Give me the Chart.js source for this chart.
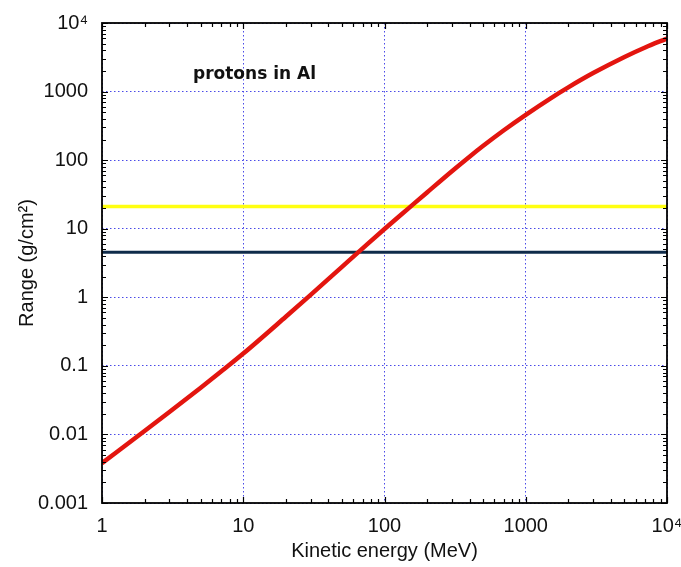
<!DOCTYPE html>
<html>
<head>
<meta charset="utf-8">
<script src="https://cdn.jsdelivr.net/npm/chart.js@4.4.1/dist/chart.umd.min.js"></script>
<style>
  html, body { margin: 0; padding: 0; background: #ffffff; }
  #wrap { width: 681px; height: 567px; position: relative; }
</style>
</head>
<body>
<div id="wrap"><canvas id="c" width="681" height="567"></canvas></div>
<script>
// ---- data ----
const energies = [1, 2, 3, 5, 7, 10, 20, 30, 50, 70, 100, 150, 200, 300, 400, 500, 700, 1000, 1500, 2000, 3000, 5000, 7000, 10000];
const ranges   = [0.00382, 0.0112, 0.0212, 0.0481, 0.0832, 0.151, 0.520, 1.086, 2.78, 5.16, 9.89, 20.3, 33.8, 69.0, 112.5, 162, 273, 458, 798, 1153, 1862, 3200, 4400, 5950];
const yellowLevel = 21.0;
const navyLevel = 4.55;
const xTickValues = [1, 10, 100, 1000, 10000];
const xTickLabels = ['1', '10', '100', '1000', '10\u2074'];
const yTickValues = [0.001, 0.01, 0.1, 1, 10, 100, 1000, 10000];
const yTickLabels = ['0.001', '0.01', '0.1', '1', '10', '100', '1000', '10\u2074'];
const xTitle = 'Kinetic energy (MeV)';
const yTitle = 'Range (g/cm\u00B2)';
const annotation = 'protons in Al';

const labelFont = { family: "'Liberation Sans', Arial, sans-serif", size: 20 };

const framePlugin = {
  id: 'frame',
  afterDraw(chart) {
    const { ctx, chartArea: a, scales } = chart;
    const xs = scales.x, ys = scales.y;
    ctx.save();
    ctx.strokeStyle = '#000';
    ctx.lineWidth = 1.2;
    ctx.beginPath();
    for (let d = 1; d < 10000; d *= 10) {
      for (let m = 1; m <= 10; m++) {
        const v = d * m;
        if (v > 10000) break;
        const px = Math.round(xs.getPixelForValue(v)) + 0.5;
        const len = (m === 1 || m === 10) ? 6 : 4;
        ctx.moveTo(px, a.bottom); ctx.lineTo(px, a.bottom - len);
        ctx.moveTo(px, a.top); ctx.lineTo(px, a.top + len);
      }
    }
    for (let d = 0.001; d < 9999; d *= 10) {
      for (let m = 1; m <= 10; m++) {
        const v = d * m;
        if (v > 10001) break;
        const py = Math.round(ys.getPixelForValue(v)) + 0.5;
        const len = (m === 1 || m === 10) ? 6 : 4;
        ctx.moveTo(a.left, py); ctx.lineTo(a.left + len, py);
        ctx.moveTo(a.right, py); ctx.lineTo(a.right - len, py);
      }
    }
    ctx.stroke();
    ctx.lineWidth = 1.8;
    ctx.strokeRect(a.left, a.top, a.right - a.left, a.bottom - a.top);
    ctx.fillStyle = '#111';
    ctx.font = "bold 17px 'DejaVu Sans', Verdana, sans-serif";
    ctx.textBaseline = 'middle';
    ctx.textAlign = 'left';
    ctx.fillText(annotation, a.left + 91, a.top + 52);
    ctx.restore();
  }
};

const gridColor = '#4a4ae8';

new Chart(document.getElementById('c'), {
  type: 'line',
  data: {
    datasets: [
      {
        label: 'yellow',
        data: [{ x: 1, y: yellowLevel }, { x: 10000, y: yellowLevel }],
        borderColor: '#ffff10',
        borderWidth: 3.5,
        pointRadius: 0,
        order: 3
      },
      {
        label: 'navy',
        data: [{ x: 1, y: navyLevel }, { x: 10000, y: navyLevel }],
        borderColor: '#0f2b4a',
        borderWidth: 3,
        pointRadius: 0,
        order: 2
      },
      {
        label: 'range',
        data: energies.map((e, i) => ({ x: e, y: ranges[i] })),
        borderColor: '#e3150f',
        borderWidth: 4.5,
        pointRadius: 0,
        cubicInterpolationMode: 'monotone',
        order: 1
      }
    ]
  },
  options: {
    responsive: false,
    animation: false,
    devicePixelRatio: 1,
    layout: { padding: { top: 23, right: 14, left: 0, bottom: 0 } },
    plugins: { legend: { display: false }, tooltip: { enabled: false } },
    scales: {
      x: {
        type: 'logarithmic',
        min: 1, max: 10000,
        afterFit: s => { s.height = 64; s.paddingLeft = 0; s.paddingRight = 0; },
        afterBuildTicks: s => { s.ticks = xTickValues.map(v => ({ value: v })); },
        ticks: {
          autoSkip: false,
          maxRotation: 0,
          padding: 11,
          color: '#111',
          font: labelFont,
          callback: (v) => { const i = xTickValues.indexOf(v); return i >= 0 ? xTickLabels[i] : null; }
        },
        grid: { color: gridColor, lineWidth: 1, drawTicks: false },
        border: { display: false, dash: [1.5, 2.5] },
        title: { display: true, text: xTitle, color: '#111', font: labelFont, padding: { top: 0, bottom: 4 } }
      },
      y: {
        type: 'logarithmic',
        min: 0.001, max: 10000,
        afterFit: s => { s.width = 102; s.paddingTop = 0; s.paddingBottom = 0; },
        afterBuildTicks: s => { s.ticks = yTickValues.map(v => ({ value: v })); },
        ticks: {
          autoSkip: false,
          padding: 14,
          color: '#111',
          font: labelFont,
          callback: (v) => {
            const i = yTickValues.findIndex(t => Math.abs(Math.log10(t) - Math.log10(v)) < 1e-6);
            return i >= 0 ? yTickLabels[i] : null;
          }
        },
        grid: { color: gridColor, lineWidth: 1, drawTicks: false },
        border: { display: false, dash: [1.5, 2.5] },
        title: { display: true, text: yTitle, color: '#111', font: labelFont, padding: { top: 15, bottom: 0 } }
      }
    }
  },
  plugins: [framePlugin]
});
</script>
</body>
</html>
